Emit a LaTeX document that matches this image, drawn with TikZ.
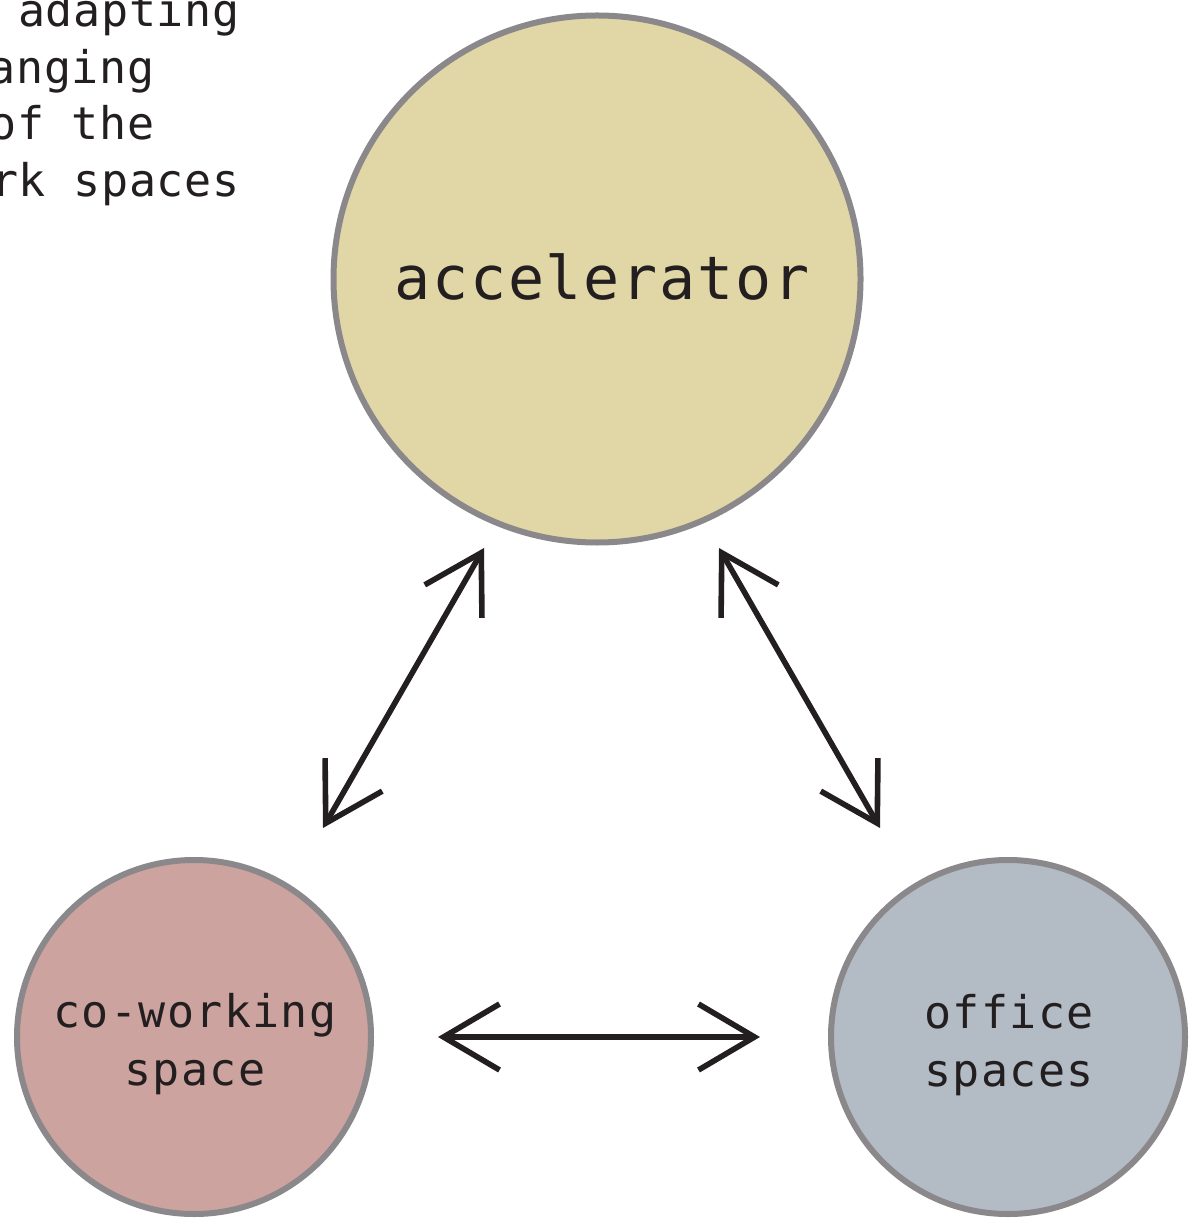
\documentclass[tikz,border=0pt]{standalone}
\usepackage{fontspec}
\usetikzlibrary{arrows.meta,calc}
\newfontfamily\lgbig[LetterSpace=3]{DejaVu Sans Mono}
\newfontfamily\lgsmall[LetterSpace=3]{DejaVu Sans Mono}
\newfontfamily\lgtop[LetterSpace=1.5]{DejaVu Sans Mono}
\definecolor{accfill}{RGB}{224,214,166}
\definecolor{cowfill}{RGB}{204,163,159}
\definecolor{offfill}{RGB}{179,187,197}
\definecolor{rim}{RGB}{138,136,138}
\definecolor{ink}{RGB}{35,31,32}
\tikzset{
  bubble/.style={circle,draw=rim,line width=3pt,inner sep=0pt},
  bigbubble/.style={bubble,minimum size=263.5pt},
  smallbubble/.style={bubble,minimum size=177pt},
  biglabel/.style={inner sep=0pt,text=ink,font=\lgbig\fontsize{30pt}{36pt}\selectfont},
  smalllabel/.style={inner sep=0pt,align=center,text=ink,font=\lgsmall\fontsize{22.5pt}{29pt}\selectfont},
  dbl/.style={ink,line width=2.8pt,{Straight Barb[length=28pt,width=33pt]}-{Straight Barb[length=28pt,width=33pt]}},
  toptext/.style={anchor=base east,inner sep=0pt,text=ink,font=\lgtop\fontsize{22.5pt}{28.5pt}\selectfont}
}
\begin{document}
\begin{tikzpicture}[x=0.5pt,y=-0.5pt]
\useasboundingbox (0,0) rectangle (1191,1224);
\clip (0,0) rectangle (1191,1224);
\fill[white] (0,0) rectangle (1191,1224);
\node[toptext] (t1) at (240,27) {adapting};
\node[toptext] (t2) at (155,84) {changing};
\node[toptext] (t3) at (155,140) {of the};
\node[toptext] (t4) at (240,197) {work spaces};
\node[bigbubble,fill=accfill] (acc) at (597,279) {};
\node[smallbubble,fill=cowfill] (cow) at (194,1037) {};
\node[smallbubble,fill=offfill] (off) at (1008,1037) {};
\node[biglabel] (accl) at ($(acc.center)+(5,-2)$) {accelerator};
\node[smalllabel] (cowl) at ($(cow.center)+(1,7)$) {co-working\\space};
\node[smalllabel] (offl) at ($(off.center)+(1,8)$) {office\\spaces};
\coordinate (a1) at ($(acc.center)+(-113,269)$);
\coordinate (c1) at ($(cow.center)+(129,-209)$);
\coordinate (a2) at ($(acc.center)+(122,269)$);
\coordinate (o2) at ($(off.center)+(-128,-209)$);
\coordinate (c3) at ($(cow.center)+(244,0)$);
\coordinate (o3) at ($(off.center)+(-248,0)$);
\draw[dbl] (a1) -- (c1);
\draw[dbl] (a2) -- (o2);
\draw[dbl] (c3) -- (o3);
\end{tikzpicture}
\end{document}
